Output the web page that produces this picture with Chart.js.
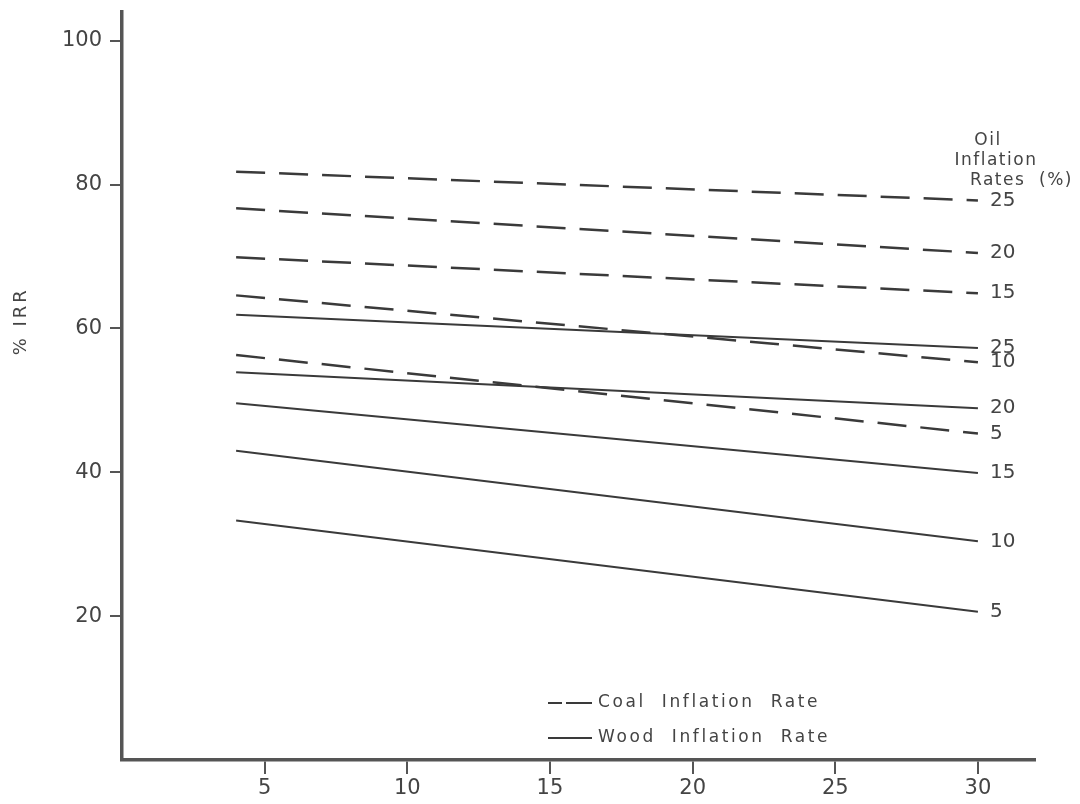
<!DOCTYPE html>
<html>
<head>
<meta charset="utf-8">
<script src="https://cdn.jsdelivr.net/npm/chart.js@4.4.1/dist/chart.umd.min.js"></script>
<style>
html,body{margin:0;padding:0;background:#fff;}
#wrap{width:1080px;height:804px;}
</style>
</head>
<body>
<div id="wrap"><canvas id="c" width="1080" height="804"></canvas></div>
<script>
// Years (x) at which each line starts and ends
const years = [4, 30];
// Oil inflation rates labelling each curve
const oilRates = ['25', '20', '15', '10', '5'];
// % IRR, coal inflation-rate curves (dashed), by oil rate 25..5
const coal25 = [81.8, 77.8];
const coal20 = [76.7, 70.5];
const coal15 = [69.9, 64.9];
const coal10 = [64.6, 55.3];
const coal5  = [56.3, 45.4];
// % IRR, wood inflation-rate curves (solid), by oil rate 25..5
const wood25 = [61.9, 57.3];
const wood20 = [53.9, 48.9];
const wood15 = [49.6, 39.9];
const wood10 = [43.0, 30.4];
const wood5  = [33.3, 20.6];
// Axis ticks
const xTicks = [5, 10, 15, 20, 25, 30];
const yTicks = [20, 40, 60, 80, 100];

const coalSeries = [coal25, coal20, coal15, coal10, coal5];
const woodSeries = [wood25, wood20, wood15, wood10, wood5];
const toPts = arr => arr.map((v, i) => ({x: years[i], y: v}));

const INK = '#3a3a3a';
const FONT = '"DejaVu Sans", "Open Sans", sans-serif';

const datasets = [];
coalSeries.forEach((s, i) => datasets.push({
  label: 'Coal ' + oilRates[i], data: toPts(s), kind: 'coal', rate: oilRates[i],
  borderColor: INK, borderWidth: 2.5, borderDash: [29, 14], pointRadius: 0, fill: false
}));
woodSeries.forEach((s, i) => datasets.push({
  label: 'Wood ' + oilRates[i], data: toPts(s), kind: 'wood', rate: oilRates[i],
  borderColor: INK, borderWidth: 2, pointRadius: 0, fill: false
}));

const annot = {
  id: 'annot',
  afterDatasetsDraw(chart) {
    const ctx = chart.ctx;
    const xs = chart.scales.x, ys = chart.scales.y;
    const ca = chart.chartArea;
    ctx.save();
    ctx.fillStyle = '#444';
    ctx.font = '20px ' + FONT;
    ctx.textBaseline = 'middle';
    ctx.textAlign = 'left';
    // end labels
    chart.data.datasets.forEach((ds, di) => {
      const meta = chart.getDatasetMeta(di);
      const last = meta.data[meta.data.length - 1];
      ctx.fillText(ds.rate, last.x + 12, last.y);
    });
    // header "Oil Inflation Rates (%)"
    const hx = xs.getPixelForValue(years[1]);
    const hy = ys.getPixelForValue(coal25[1]);
    ctx.font = '17px ' + FONT;
    ctx.letterSpacing = '1.5px';
    ctx.textAlign = 'center';
    ctx.fillText('Oil', hx + 10, hy - 60);
    ctx.fillText('Inflation', hx + 18, hy - 40);
    ctx.textAlign = 'left';
    ctx.fillText('Rates  (%)', hx - 8, hy - 20);
    // y title
    ctx.save();
    ctx.translate(21, ys.getPixelForValue(61));
    ctx.rotate(-Math.PI / 2);
    ctx.textAlign = 'center';
    ctx.letterSpacing = '3px';
    ctx.font = '18px ' + FONT;
    ctx.fillText('% IRR', 0, 0);
    ctx.restore();
    // legend
    const lx = ca.left + 476;
    const ly1 = ca.bottom - 57;
    const ly2 = ca.bottom - 22;
    ctx.strokeStyle = INK;
    ctx.lineWidth = 2;
    ctx.setLineDash([14, 4, 28, 0]);
    ctx.beginPath(); ctx.moveTo(lx - 50, ly1); ctx.lineTo(lx - 6, ly1); ctx.stroke();
    ctx.setLineDash([]);
    ctx.beginPath(); ctx.moveTo(lx - 50, ly2); ctx.lineTo(lx - 6, ly2); ctx.stroke();
    ctx.font = '17px ' + FONT;
    ctx.letterSpacing = '2.6px';
    ctx.textAlign = 'left';
    ctx.fillText('Coal  Inflation  Rate', lx, ly1);
    ctx.fillText('Wood  Inflation  Rate', lx, ly2);
    ctx.restore();
  }
};

new Chart(document.getElementById('c'), {
  type: 'line',
  data: { datasets },
  options: {
    responsive: false,
    animation: false,
    layout: { padding: { top: 12, right: 45, left: 0, bottom: 0 } },
    plugins: { legend: { display: false }, tooltip: { enabled: false } },
    scales: {
      x: {
        type: 'linear', min: 0, max: 32,
        afterBuildTicks: s => { s.ticks = xTicks.map(v => ({value: v})); },
        afterFit: s => { s.height = 44; s.paddingLeft = 0; s.paddingRight = 0; },
        grid: { drawOnChartArea: false, drawTicks: true, tickLength: 14, color: '#555', lineWidth: 2 },
        border: { display: true, color: '#555', width: 3.5 },
        ticks: { color: '#444', font: { family: FONT, size: 21 }, padding: 2, maxRotation: 0 }
      },
      y: {
        type: 'linear', min: 0, max: 104,
        afterBuildTicks: s => { s.ticks = yTicks.map(v => ({value: v})); },
        afterFit: s => { s.width = 122; s.paddingTop = 0; s.paddingBottom = 0; },
        grid: { drawOnChartArea: false, drawTicks: true, tickLength: 12, color: '#555', lineWidth: 2 },
        border: { display: true, color: '#555', width: 3.5 },
        ticks: { color: '#444', font: { family: FONT, size: 21 }, padding: 8 }
      }
    }
  },
  plugins: [annot]
});
</script>
</body>
</html>
